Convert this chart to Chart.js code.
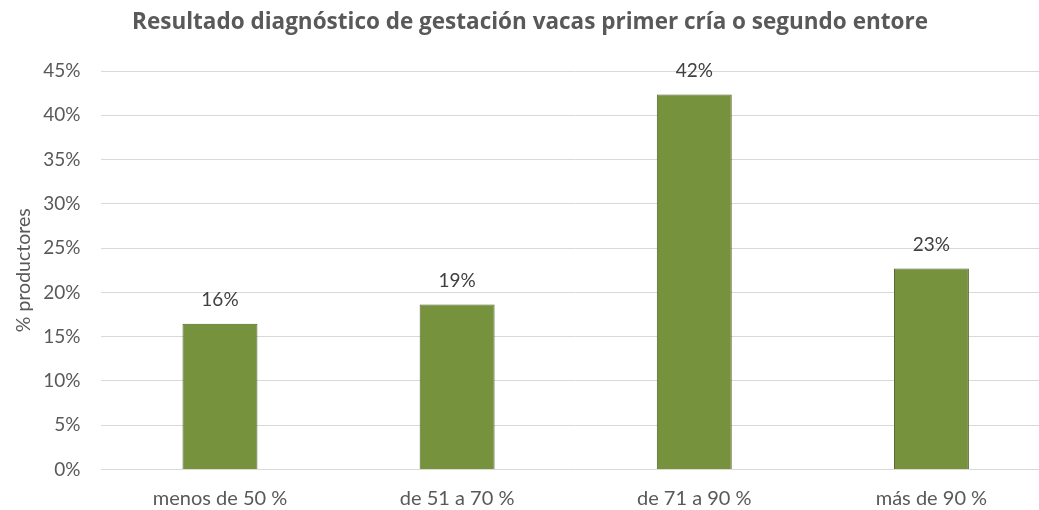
<!DOCTYPE html>
<html>
<head>
<meta charset="utf-8">
<script src="https://cdn.jsdelivr.net/npm/chart.js@4"></script>
<style>
  html, body { margin: 0; padding: 0; background: #fff; overflow: hidden; }
  #wrap { width: 1052px; height: 510px; }
</style>
</head>
<body>
<div id="wrap"><canvas id="chart"></canvas></div>
<script>
const categories = ["menos de 50 %", "de 51 a 70 %", "de 71 a 90 %", "más de 90 %"];
const productores = [16.45, 18.64, 42.34, 22.7];
const yTicks = [0, 5, 10, 15, 20, 25, 30, 35, 40, 45];

const FONT = "Lato, 'Open Sans', sans-serif";

// draws the % value above each bar
const valueLabels = {
  id: "valueLabels",
  afterDatasetsDraw(chart) {
    const ctx = chart.ctx;
    const meta = chart.getDatasetMeta(0);
    ctx.save();
    ctx.font = "19px " + FONT;
    ctx.fillStyle = "#404040";
    ctx.textAlign = "center";
    ctx.textBaseline = "middle";
    meta.data.forEach((bar, i) => {
      ctx.fillText(Math.round(productores[i]) + "%", bar.x, bar.y - 24);
    });
    ctx.restore();
  },
};

new Chart(document.getElementById("chart"), {
  type: "bar",
  data: {
    labels: categories,
    datasets: [
      {
        data: productores,
        backgroundColor: "#76923C",
        borderColor: "#4F6228",
        borderWidth: 1,
        categoryPercentage: 1,
        barPercentage: 0.316,
      },
    ],
  },
  options: {
    responsive: true,
    maintainAspectRatio: false,
    animation: false,
    layout: { padding: { left: 10, right: 2, top: 0, bottom: 0 } },
    plugins: {
      legend: { display: false },
      tooltip: { enabled: false },
      title: {
        display: true,
        text: "Resultado diagnóstico de gestación vacas primer cría o segundo entore",
        color: "#595959",
        font: { family: "'Open Sans', sans-serif", size: 22.5, weight: "bold" },
        padding: { top: 9, bottom: 35 },
      },
    },
    scales: {
      x: {
        afterFit(axis) {
          axis.height = 40.5;
        },
        grid: { display: false, drawTicks: false },
        border: { display: false },
        ticks: {
          color: "#595959",
          font: { family: FONT, size: 20 },
          padding: 17.5,
          maxRotation: 0,
        },
      },
      y: {
        min: 0,
        max: 45,
        afterBuildTicks(axis) {
          axis.ticks = yTicks.map((v) => ({ value: v }));
        },
        afterFit(axis) {
          axis.width = 91.4;
        },
        grid: { color: "#D9D9D9", lineWidth: 1, drawTicks: false },
        border: { display: false },
        ticks: {
          color: "#595959",
          font: { family: FONT, size: 19 },
          padding: 21,
          callback: (v) => v + "%",
        },
        title: {
          display: true,
          text: "% productores",
          color: "#595959",
          font: { family: FONT, size: 19.5 },
          padding: { top: 2, bottom: 0 },
        },
      },
    },
  },
  plugins: [valueLabels],
});
</script>
</body>
</html>
